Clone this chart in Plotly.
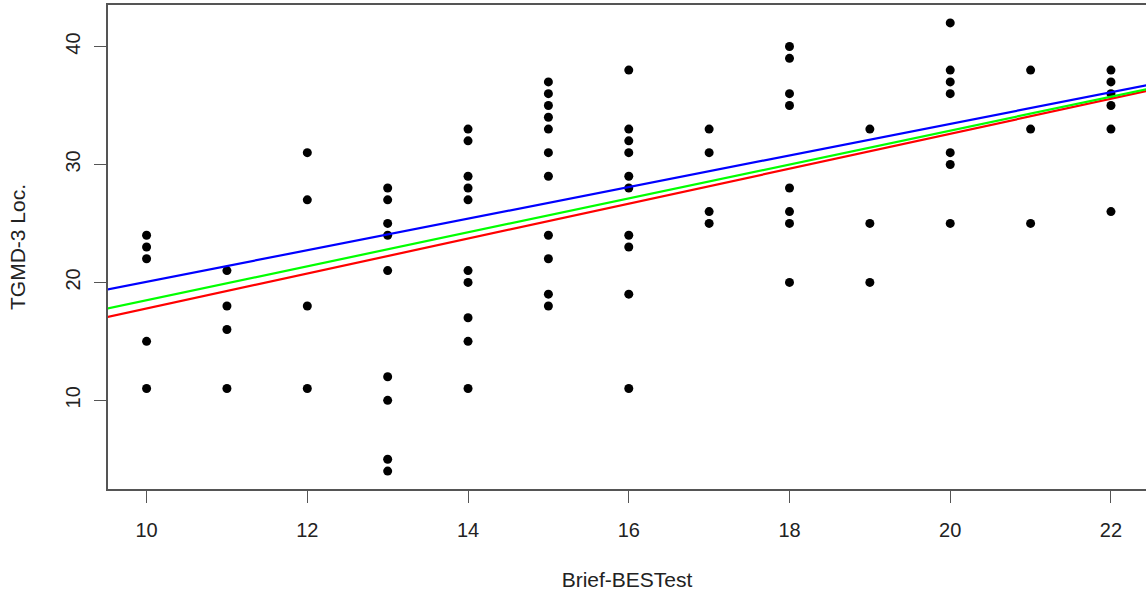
import plotly.graph_objects as go

# Brief-BESTest score (x) and TGMD-3 Locomotor score (y)
x_groups = [10, 11, 12, 13, 14, 15, 16, 17, 18, 19, 20, 21, 22]
y_groups = [
    [24, 23, 22, 15, 11],
    [21, 18, 16, 11],
    [31, 27, 18, 11],
    [28, 27, 25, 24, 21, 12, 10, 5, 4],
    [33, 32, 29, 28, 27, 21, 20, 17, 15, 11],
    [37, 36, 35, 34, 33, 31, 29, 24, 22, 19, 18],
    [38, 33, 32, 31, 29, 28, 24, 23, 19, 11],
    [33, 31, 26, 25],
    [40, 39, 36, 35, 28, 26, 25, 20],
    [33, 25, 20],
    [42, 38, 37, 36, 31, 30, 25],
    [38, 33, 25],
    [38, 37, 36, 35, 33, 26],
]

# fitted lines (intercept, slope)
line_names = ["red", "green", "blue"]
line_intercepts = [2.98, 4.11, 6.66]
line_slopes = [1.481, 1.438, 1.339]
line_colors = ["#FF0000", "#00FF00", "#0000FF"]

x_ticks = [10, 12, 14, 16, 18, 20, 22]
y_ticks = [10, 20, 30, 40]

xs, ys = [], []
for xv, yl in zip(x_groups, y_groups):
    for yv in yl:
        xs.append(xv)
        ys.append(yv)

x_range = [9.52, 22.436]
y_range = [2.48, 43.52]

fig = go.Figure()
fig.add_trace(go.Scatter(x=xs, y=ys, mode="markers",
                         marker=dict(color="black", size=9, line=dict(width=0)),
                         showlegend=False, hoverinfo="x+y"))
x_ends = [9.0, 23.0]
for name, a, b, c in zip(line_names, line_intercepts, line_slopes, line_colors):
    fig.add_trace(go.Scatter(x=x_ends, y=[a + b * v for v in x_ends], mode="lines",
                             line=dict(color=c, width=2.2), name=name,
                             showlegend=False, hoverinfo="skip"))

fam = "Liberation Sans, Arial, sans-serif"
tick_font = dict(family=fam, size=20, color="#222")
title_font = dict(family=fam, size=21, color="#222")
fig.update_layout(
    width=1146, height=596, autosize=False,
    margin=dict(l=108, r=0, t=5, b=107),
    paper_bgcolor="white", plot_bgcolor="white",
    font=tick_font,
    showlegend=False,
)
fig.update_xaxes(
    range=x_range, tickvals=x_ticks, ticks="outside", ticklen=12, tickwidth=1.3,
    tickcolor="#555", showline=True, linecolor="#555", linewidth=1.5, mirror=True,
    showgrid=False, zeroline=False, tickfont=tick_font, ticklabelstandoff=10,
    title=dict(text="Brief-BESTest", font=title_font, standoff=33),
)
fig.update_yaxes(
    range=y_range, tickvals=y_ticks, ticks="outside", ticklen=12, tickwidth=1.3,
    tickcolor="#555", showline=True, linecolor="#555", linewidth=1.5, mirror=False,
    showgrid=False, zeroline=False, tickfont=tick_font, tickangle=-90, ticklabelstandoff=6,
    title=dict(text="TGMD-3 Loc.", font=title_font, standoff=31),
)
fig.write_html(
    "out.html",
    default_width="1146px", default_height="596px",
    config={"displayModeBar": False},
    post_script="document.body.style.margin='0px';document.body.style.padding='0px';"
                "document.body.style.overflow='hidden';",
)
